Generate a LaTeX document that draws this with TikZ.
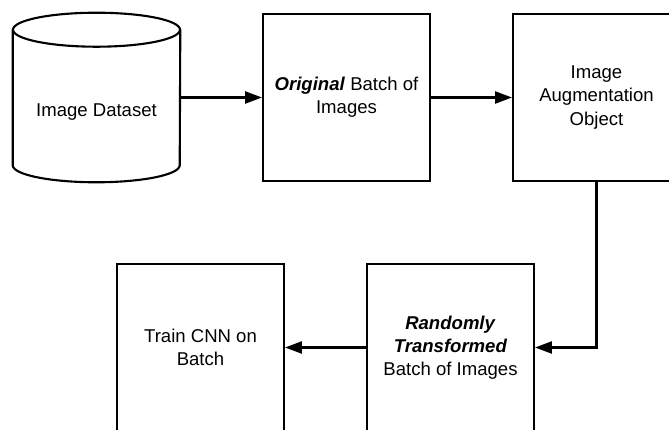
\documentclass[tikz,border=0pt]{standalone}
\usepackage{fontspec}
\setmainfont{Liberation Sans}
\usetikzlibrary{arrows.meta,positioning}

\begin{document}
\begin{tikzpicture}[
    box/.style={rectangle, draw, line width=1.5pt, minimum width=4.175cm, minimum height=4.175cm, align=center, inner sep=0pt, font=\fontsize{13.2}{16.4}\selectfont},
    db/.style={rectangle, minimum width=4.175cm, minimum height=4.225cm, inner sep=0pt},
    arrow/.style={-{Triangle[length=0.42cm,width=0.3cm]}, line width=1.5pt}
]
\useasboundingbox (0,0) rectangle (16.725,-10.75);

% Image dataset (cylinder)
\node[db, label={[font=\fontsize{13.2}{16.4}\selectfont, yshift=-0.36cm]center:Image Dataset}] (data) at (2.4125,-2.4375) {};
\draw[line width=1.5pt] ([yshift=-0.425cm]data.north) ellipse (2.0875cm and 0.425cm);
\draw[line width=1.5pt] ([yshift=-0.425cm]data.north west) -- ([yshift=0.425cm]data.south west)
    arc (180:360:2.0875cm and 0.425cm) -- ([yshift=-0.425cm]data.north east);

% Top row
\node[box] (orig) at (8.6625,-2.4375) {\textbf{\textit{Original}} Batch of\\Images};
\node[box] (aug) at (14.9125,-2.4375) {Image\\Augmentation\\Object};

% Bottom row
\node[box] (train) at (5.0125,-8.6875) {Train CNN on\\Batch};
\node[box] (rand) at (11.2625,-8.6875) {\textbf{\textit{Randomly}}\\\textbf{\textit{Transformed}}\\Batch of Images};

% Arrows
\draw[arrow] (data) -- (orig);
\draw[arrow] (orig) -- (aug);
\draw[arrow] (aug.south) |- (rand.east);
\draw[arrow] (rand) -- (train);

\end{tikzpicture}
\end{document}
